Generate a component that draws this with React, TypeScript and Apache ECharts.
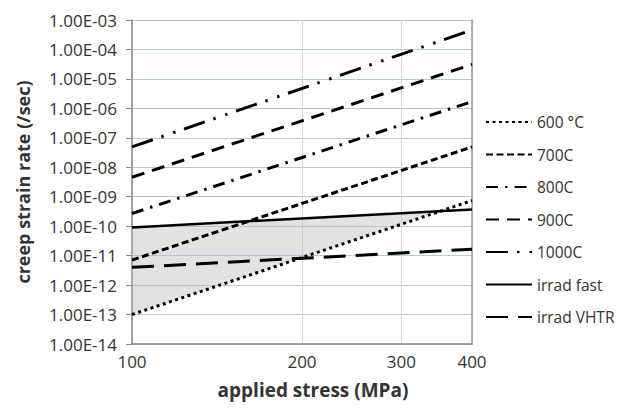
import React, { useEffect, useRef } from "react";
import * as echarts from "echarts";

const stress = [100, 400];
const c600 = [1.0e-13, 7.4e-10];
const c700 = [7.1e-12, 4.9e-8];
const c800 = [2.7e-10, 1.7e-6];
const c900 = [4.6e-9, 3.1e-5];
const c1000 = [4.9e-8, 4.6e-4];
const irradFast = [9.1e-11, 3.7e-10];
const irradVHTR = [4.0e-12, 1.65e-11];
const xTicks = [100, 200, 300, 400];
const legendNames = ["600 °C", "700C", "800C", "900C", "1000C", "irrad fast", "irrad VHTR"];

const FONT = "'Open Sans', sans-serif";

function intersect(a: number[], b: number[]): number[] {
  const lx0 = Math.log10(stress[0]);
  const lx1 = Math.log10(stress[1]);
  const sa = (Math.log10(a[1]) - Math.log10(a[0])) / (lx1 - lx0);
  const sb = (Math.log10(b[1]) - Math.log10(b[0])) / (lx1 - lx0);
  const u = (Math.log10(b[0]) - Math.log10(a[0])) / (sa - sb);
  return [Math.pow(10, lx0 + u), Math.pow(10, Math.log10(a[0]) + sa * u)];
}

export default function App() {
  const ref = useRef<HTMLDivElement>(null);
  useEffect(() => {
    if (!ref.current) return;
    const chart = echarts.init(ref.current, undefined, { renderer: "svg" });
    const pts = (arr: number[]) => stress.map((x, i) => [x, arr[i]]);
    const shadeVerts = [
      [stress[0], irradFast[0]],
      intersect(irradFast, c600),
      [stress[0], c600[0]],
    ];
    const lineSeries = (name: string, arr: number[], type: any, width = 3) => ({
      name,
      type: "line",
      data: pts(arr),
      symbol: "none",
      z: 3,
      itemStyle: { color: "#000" },
      lineStyle: { color: "#000", width, type, cap: "butt" },
    });
    const fmtY = (v: number) => {
      const e = Math.round(Math.log10(v));
      return "1.00E" + (e < 0 ? "-" : "+") + String(Math.abs(e)).padStart(2, "0");
    };
    chart.setOption({
      animation: false,
      textStyle: { fontFamily: FONT },
      grid: { left: 132, right: 145, top: 20, bottom: 64, containLabel: false },
      legend: {
        data: legendNames,
        orient: "vertical",
        left: 480,
        top: 108,
        itemWidth: 46,
        itemHeight: 18,
        itemGap: 14.5,
        itemStyle: { opacity: 0 },
        textStyle: { fontSize: 15.5, color: "#333", fontFamily: FONT, lineHeight: 18 },
      },
      xAxis: {
        type: "log",
        logBase: 10,
        min: 100,
        max: 400,
        name: "applied stress (MPa)",
        nameLocation: "middle",
        nameGap: 36,
        nameTextStyle: { fontSize: 19, fontWeight: "bold", color: "#333", fontFamily: FONT, padding: [0, 0, 0, 22] },
        axisLine: { show: true, lineStyle: { color: "#888", width: 1.5 } },
        axisTick: { show: false, customValues: xTicks },
        axisLabel: { customValues: xTicks, fontSize: 17, color: "#333", margin: 9, fontFamily: FONT },
        splitLine: { show: true, lineStyle: { color: "#d4d4dc", width: 1 } },
      },
      yAxis: [
        {
          type: "log",
          logBase: 10,
          min: 1e-14,
          max: 1e-3,
          interval: 1,
          name: "creep strain rate (/sec)",
          nameLocation: "middle",
          nameGap: 100,
          nameTextStyle: { fontSize: 18, fontWeight: "bold", color: "#333", fontFamily: FONT },
          axisLine: { show: true, lineStyle: { color: "#888", width: 1.5 } },
          axisTick: { show: true, length: 6, lineStyle: { color: "#888" } },
          axisLabel: { formatter: fmtY, fontSize: 17, color: "#333", margin: 15, fontFamily: FONT },
          splitLine: { show: true, lineStyle: { color: "#b9c7e6", width: 1 } },
        },
        {
          type: "log",
          logBase: 10,
          min: 1e-14,
          max: 1e-3,
          position: "right",
          axisLine: { show: true, lineStyle: { color: "#999", width: 1.5 } },
          axisTick: { show: false },
          axisLabel: { show: false },
          splitLine: { show: false },
        },
      ],
      series: [
        {
          name: "shade",
          type: "custom",
          silent: true,
          z: 1,
          clip: true,
          data: shadeVerts,
          encode: { x: 0, y: 1 },
          renderItem: (params: any, api: any) => {
            if (params.dataIndex !== 0) return null;
            const p = shadeVerts.map((v) => api.coord(v));
            return {
              type: "polygon",
              shape: { points: p },
              style: { fill: "rgba(190,190,190,0.45)", stroke: "none" },
            };
          },
        },
        lineSeries("600 °C", c600, [3, 3.5]),
        lineSeries("700C", c700, [7, 3.5]),
        lineSeries("800C", c800, [12, 7, 2.5, 7]),
        lineSeries("900C", c900, [13, 8]),
        lineSeries("1000C", c1000, [22, 9, 2.5, 10, 2.5, 9]),
        lineSeries("irrad fast", irradFast, "solid", 2.5),
        lineSeries("irrad VHTR", irradVHTR, [22, 10]),
      ],
    });
    return () => chart.dispose();
  }, []);
  return <div ref={ref} style={{ width: 617, height: 408, position: "absolute", left: 0, top: 0 }} />;
}
